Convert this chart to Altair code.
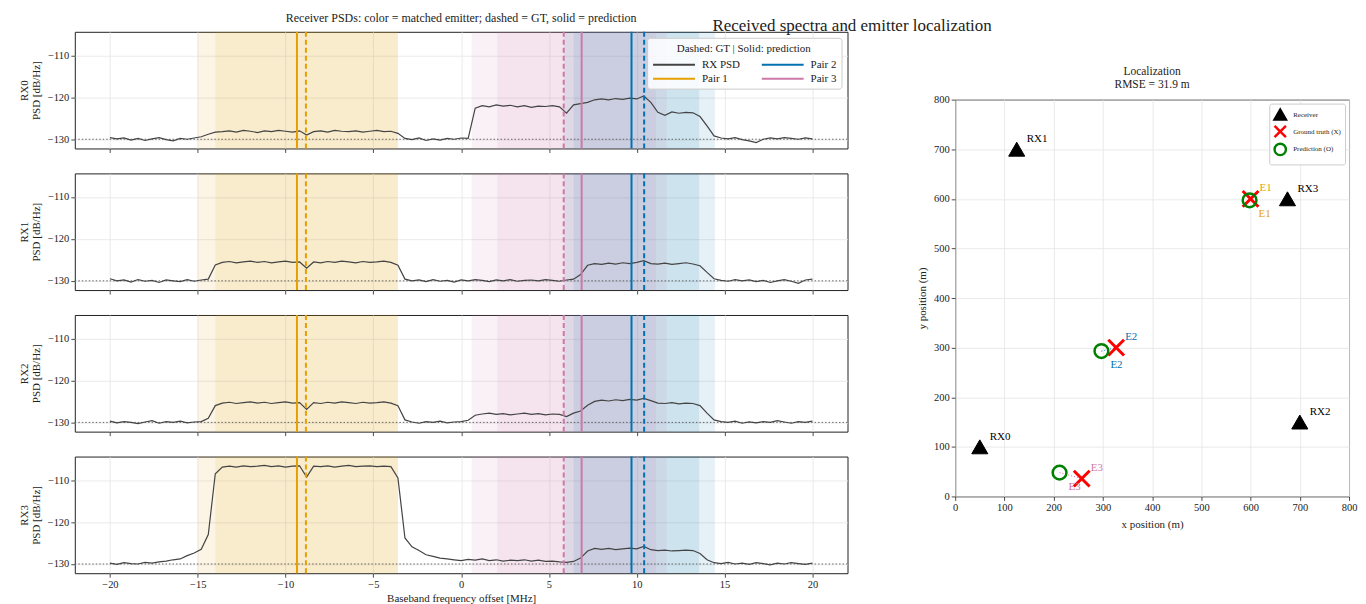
import altair as alt
import pandas as pd

FONT = "Liberation Serif"
INK = "#222222"

# ---------------- spectra data ----------------
freq_mhz = [
    -20.0, -19.6, -19.2, -18.8, -18.4, -18.0, -17.6, -17.2, -16.8, -16.4,
    -16.0, -15.6, -15.2, -14.8, -14.4, -14.0, -13.6, -13.2, -12.8, -12.4,
    -12.0, -11.6, -11.2, -10.8, -10.4, -10.0, -9.6, -9.2, -8.8, -8.4,
    -8.0, -7.6, -7.2, -6.8, -6.4, -6.0, -5.6, -5.2, -4.8, -4.4,
    -4.0, -3.6, -3.2, -2.8, -2.4, -2.0, -1.6, -1.2, -0.8, -0.4,
    0.0, 0.4, 0.8, 1.2, 1.6, 2.0, 2.4, 2.8, 3.2, 3.6,
    4.0, 4.4, 4.8, 5.2, 5.6, 6.0, 6.4, 6.8, 7.2, 7.6,
    8.0, 8.4, 8.8, 9.2, 9.6, 10.0, 10.4, 10.8, 11.2, 11.6,
    12.0, 12.4, 12.8, 13.2, 13.6, 14.0, 14.4, 14.8, 15.2, 15.6,
    16.0, 16.4, 16.8, 17.2, 17.6, 18.0, 18.4, 18.8, 19.2, 19.6,
    20.0,
]

psd_rx0 = [
    -129.6, -129.9, -129.7, -130.2, -129.8, -130.3, -129.9, -129.6, -130.1, -130.4,
    -129.8, -130.0, -129.7, -129.4, -128.8, -128.3, -128.2, -128.0, -128.3, -127.9,
    -128.1, -128.4, -128.0, -128.2, -127.9, -128.1, -128.3, -128.0, -129.0, -128.2,
    -128.0, -128.3, -127.9, -128.1, -128.2, -128.0, -128.3, -128.1, -127.9, -128.2,
    -128.1, -128.6, -129.8, -130.1, -129.7, -130.3, -129.9, -130.2, -129.8, -130.0,
    -129.7, -129.8, -122.6, -122.0, -122.3, -121.8, -122.1, -121.9, -122.3, -122.0,
    -122.4, -122.1, -122.2, -122.0, -122.3, -123.8, -121.8, -121.5, -121.2, -120.6,
    -120.4, -120.6, -120.3, -120.5, -120.2, -120.4, -119.7, -121.2, -123.6, -124.3,
    -123.5, -123.8, -123.6, -123.7, -124.6, -126.8, -129.2, -129.7, -129.9, -129.6,
    -130.1, -130.4, -130.8, -130.0, -129.7, -129.9, -129.6, -129.8, -130.0, -129.7,
    -129.9,
]
psd_rx1 = [
    -129.5, -130.0, -129.8, -130.3, -129.7, -130.1, -129.9, -130.4, -129.8, -130.0,
    -130.2, -129.7, -130.1, -129.8, -129.6, -126.2, -125.6, -125.4, -125.7, -125.5,
    -125.3, -125.6, -125.4, -125.7, -125.5, -125.3, -125.6, -125.5, -127.0, -125.5,
    -125.7, -125.4, -125.6, -125.3, -125.5, -125.7, -125.4, -125.6, -125.5, -125.3,
    -125.6, -126.3, -129.6, -130.0, -129.8, -130.2, -129.7, -130.1, -129.9, -130.3,
    -129.8, -130.0, -129.7, -129.9, -130.2, -129.8, -130.0, -129.7, -130.1, -129.9,
    -129.8, -130.0, -129.7, -129.9, -130.1, -129.8, -129.6, -128.5, -126.3, -125.9,
    -126.1, -125.8, -126.0, -125.7, -125.9, -125.6, -125.2, -125.9, -126.0, -125.8,
    -126.1, -125.9, -125.7, -126.0, -126.4, -128.0, -129.5, -129.9, -130.1, -129.7,
    -130.0, -129.8, -130.2, -129.9, -130.4, -130.0, -129.7, -130.1, -130.6, -129.8,
    -129.6,
]
psd_rx2 = [
    -129.7, -130.1, -129.8, -130.0, -130.3, -129.9, -129.6, -130.2, -129.8, -130.0,
    -129.7, -130.1, -129.9, -129.8, -129.0, -126.0, -125.4, -125.2, -125.5, -125.3,
    -125.1, -125.4, -125.2, -125.5, -125.3, -125.1, -125.4, -125.3, -126.9, -125.3,
    -125.5, -125.2, -125.4, -125.1, -125.3, -125.5, -125.2, -125.4, -125.3, -125.1,
    -125.4, -126.0, -129.4, -129.9, -130.2, -129.8, -130.0, -129.7, -130.1, -129.9,
    -129.8, -129.5, -128.3, -128.0, -127.8, -128.1, -127.9, -128.2, -128.0, -127.8,
    -128.1, -127.9, -128.2, -128.0, -128.1, -128.6, -127.8, -127.3, -125.9, -125.0,
    -124.7, -124.9, -124.6, -124.8, -124.5, -124.7, -124.3, -124.8, -125.4, -125.5,
    -125.3, -125.6, -125.4, -125.5, -126.0, -127.8, -129.4, -129.8, -130.0, -129.7,
    -130.2, -129.9, -130.1, -129.8, -130.0, -129.6, -129.9, -130.2, -129.8, -130.0,
    -129.7,
]
psd_rx3 = [
    -129.8, -130.1, -129.7, -129.9, -130.0, -129.6, -129.8, -129.5, -129.3, -129.0,
    -128.8, -128.0, -127.4, -126.5, -123.0, -108.5, -106.9, -106.7, -106.9, -106.6,
    -106.8, -106.7, -106.5, -106.8, -106.6, -106.9, -106.7, -106.6, -109.3, -106.7,
    -106.8, -106.6, -106.9, -106.7, -106.5, -106.8, -106.7, -106.6, -106.8, -106.7,
    -106.8, -109.5, -123.8, -125.9, -126.8, -127.8, -128.2, -128.6, -128.8, -129.0,
    -129.2, -128.9, -129.1, -128.8, -129.2, -129.0, -129.3, -129.1, -129.2, -129.0,
    -129.3, -129.1, -129.4, -129.3, -129.5, -129.6, -129.4, -128.6, -126.9, -126.3,
    -126.5, -126.3, -126.6, -126.4, -126.2, -126.4, -125.8, -126.6, -126.8, -126.7,
    -126.9, -126.8, -126.7, -126.8, -127.5, -129.0, -129.7, -129.9, -129.6, -130.0,
    -129.8, -130.1, -129.7, -129.9, -130.2, -129.8, -130.0, -129.7, -129.9, -130.1,
    -129.8,
]
rx_names = ["RX0", "RX1", "RX2", "RX3"]
noise_floor_db = [-130.0]

pair_names = ["Pair 1", "Pair 2", "Pair 3"]
pair_colors = ["#E69F00", "#0072B2", "#CC79A7"]
pair_gt_freq = [-8.84, 10.42, 5.84]
pair_pred_freq = [-9.35, 9.70, 6.86]
gt_band_lo = [-14.0, 6.40, 0.60]
gt_band_hi = [-3.6, 14.45, 11.10]
pred_band_lo = [-15.0, 5.85, 2.05]
pred_band_hi = [-3.6, 13.55, 11.70]

x_ticks = [-20, -15, -10, -5, 0, 5, 10, 15, 20]
y_ticks = [-130, -120, -110]
x_domain = [-22, 22]
y_domain = [-132.2, -104.4]

legend_order = ["RX PSD", "Pair 1", "Pair 2", "Pair 3"]
legend_colors = ["#444444", "#E69F00", "#0072B2", "#CC79A7"]

# ---------------- localization data ----------------
rx_x = [50, 125, 700, 675]
rx_y = [100, 700, 150, 600]
em_names = ["E1", "E2", "E3"]
gt_x = [600, 327, 257]
gt_y = [600, 300, 36]
pred_x = [598, 297, 212]
pred_y = [597, 293, 48]
loc_ticks = [0, 100, 200, 300, 400, 500, 600, 700, 800]
rmse_m = 31.9

for lst in (psd_rx0, psd_rx1, psd_rx2, psd_rx3):
    assert len(lst) == len(freq_mhz)

psd_lists = [psd_rx0, psd_rx1, psd_rx2, psd_rx3]

bands = pd.DataFrame({
    "pair": pair_names + pair_names,
    "lo": gt_band_lo + pred_band_lo,
    "hi": gt_band_hi + pred_band_hi,
})
markers = pd.DataFrame({
    "pair": pair_names + pair_names,
    "kind": ["GT"] * 3 + ["Prediction"] * 3,
    "freq": pair_gt_freq + pair_pred_freq,
})
floor_df = pd.DataFrame({"level": noise_floor_db})

x_scale = alt.Scale(domain=x_domain, nice=False, zero=False)
y_scale = alt.Scale(domain=y_domain, nice=False, zero=False)
color_scale = alt.Scale(domain=legend_order, range=legend_colors)
fill_scale_pairs = alt.Scale(domain=pair_names, range=pair_colors)
dash_scale = alt.Scale(domain=["GT", "Prediction"], range=[[5, 3], [1, 0]])

PANEL_H = 117
LEGEND_LINE = "M-1,0L5,0"


def psd_panel(i):
    is_top = i == 0
    is_bottom = i == 3
    if is_bottom:
        x_axis = alt.Axis(values=x_ticks, labels=True, title="Baseband frequency offset [MHz]",
                          titlePadding=3)
    else:
        x_axis = alt.Axis(values=x_ticks, labels=False, title=None)
    y_axis = alt.Axis(values=y_ticks, title=[rx_names[i], "PSD [dB/Hz]"])

    if is_top:
        legend = alt.Legend(
            orient="top-right", title="Dashed:  GT | Solid:  prediction",
            titleAnchor="middle", columns=2, symbolType=LEGEND_LINE,
            symbolSize=196, symbolStrokeWidth=2, labelFont=FONT,
            labelFontSize=11, titleFont=FONT, titleFontSize=11,
            titleFontWeight="normal", titleColor=INK, labelColor=INK,
            fillColor="rgba(255,255,255,0.85)", strokeColor="#cccccc",
            cornerRadius=3, padding=5, offset=6, columnPadding=17,
            rowPadding=1, labelOffset=34, titlePadding=3,
        )
    else:
        legend = None

    df = pd.DataFrame({"freq": freq_mhz, "psd": psd_lists[i], "series": "RX PSD"})

    span = alt.Chart(bands).mark_rect(opacity=0.10).encode(
        x=alt.X("lo:Q", scale=x_scale, axis=x_axis),
        x2="hi:Q",
        fill=alt.Fill("pair:N", scale=fill_scale_pairs, legend=None),
    )
    floor = alt.Chart(floor_df).mark_rule(
        color="#555555", strokeDash=[1.5, 2], strokeWidth=0.9
    ).encode(y=alt.Y("level:Q", scale=y_scale, axis=y_axis))
    line = alt.Chart(df).mark_line(strokeWidth=1.2).encode(
        x=alt.X("freq:Q", scale=x_scale, axis=x_axis),
        y=alt.Y("psd:Q", scale=y_scale, axis=y_axis),
        color=alt.Color("series:N", scale=color_scale, legend=legend),
    )
    rules = alt.Chart(markers).mark_rule(strokeWidth=2).encode(
        x=alt.X("freq:Q", scale=x_scale, axis=x_axis),
        color=alt.Color("pair:N", scale=color_scale, legend=legend),
        strokeDash=alt.StrokeDash("kind:N", scale=dash_scale, legend=None),
    )
    layered = alt.layer(span, floor, line, rules).properties(width=775, height=PANEL_H)
    if is_top:
        layered = layered.properties(title=alt.TitleParams(
            "Receiver PSDs:  color = matched emitter; dashed = GT, solid = prediction",
            fontSize=12, offset=6, font=FONT, fontWeight="normal", color=INK))
    return layered


panels = [psd_panel(i) for i in range(4)]
left = alt.vconcat(*panels, spacing=18).resolve_scale(
    color="independent", fill="independent", strokeDash="independent")

# ---------------- localization panel ----------------
X_PATH = "M-1,-1L1,1M-1,1L1,-1"
kind_domain = ["Receiver", "Ground truth (X)", "Prediction (O)"]
shape_scale = alt.Scale(domain=kind_domain, range=["triangle-up", X_PATH, "circle"])
fillk_scale = alt.Scale(domain=kind_domain, range=["#000000", "transparent", "transparent"])
strokek_scale = alt.Scale(domain=kind_domain, range=["#000000", "#ff0000", "#008000"])
em_scale = alt.Scale(domain=em_names, range=pair_colors)

loc_legend = alt.Legend(
    orient="top-right", title=None, labelFont=FONT, labelFontSize=7,
    labelColor=INK, symbolSize=130, symbolStrokeWidth=2.4,
    fillColor="white", strokeColor="#cccccc", padding=4, rowPadding=-15,
    cornerRadius=2, offset=4, labelOffset=6,
)

rx_df = pd.DataFrame({"x": rx_x, "y": rx_y, "name": rx_names, "kind": "Receiver"})
gt_df = pd.DataFrame({"x": gt_x, "y": gt_y, "name": em_names, "kind": "Ground truth (X)"})
pred_df = pd.DataFrame({"x": pred_x, "y": pred_y, "name": em_names, "kind": "Prediction (O)"})
link_df = pd.concat([gt_df, pred_df], ignore_index=True)

lx = alt.X("x:Q", scale=alt.Scale(domain=[0, 800], nice=False),
           axis=alt.Axis(values=loc_ticks, title="x position (m)"))
ly = alt.Y("y:Q", scale=alt.Scale(domain=[0, 800], nice=False),
           axis=alt.Axis(values=loc_ticks, title="y position (m)"))


def kind_enc():
    return dict(
        shape=alt.Shape("kind:N", scale=shape_scale, legend=loc_legend),
        fill=alt.Fill("kind:N", scale=fillk_scale, legend=loc_legend),
        stroke=alt.Stroke("kind:N", scale=strokek_scale, legend=loc_legend),
    )


links = alt.Chart(link_df).mark_line(strokeDash=[1, 2], strokeWidth=1).encode(
    x=lx, y=ly, detail="name:N",
    color=alt.Color("name:N", scale=em_scale, legend=None),
)
rx_pts = alt.Chart(rx_df).mark_point(size=260, strokeWidth=1, opacity=1).encode(
    x=lx, y=ly, **kind_enc())
gt_pts = alt.Chart(gt_df).mark_point(size=250, strokeWidth=3, opacity=1).encode(
    x=lx, y=ly, **kind_enc())
pred_pts = alt.Chart(pred_df).mark_point(size=190, strokeWidth=2.5, opacity=1).encode(
    x=lx, y=ly, **kind_enc())
rx_txt = alt.Chart(rx_df).mark_text(
    align="left", baseline="middle", dx=10, dy=-10, fontSize=11, font=FONT, color="black"
).encode(x=lx, y=ly, text="name:N")
gt_txt = alt.Chart(gt_df).mark_text(
    align="left", baseline="middle", dx=9, dy=-11, fontSize=11, font=FONT
).encode(x=lx, y=ly, text="name:N", color=alt.Color("name:N", scale=em_scale, legend=None))
pred_txt = alt.Chart(pred_df).mark_text(
    align="left", baseline="middle", dx=9, dy=14, fontSize=11, font=FONT
).encode(x=lx, y=ly, text="name:N", color=alt.Color("name:N", scale=em_scale, legend=None))

loc_chart = alt.layer(links, rx_pts, gt_pts, pred_pts, rx_txt, gt_txt, pred_txt).properties(
    width=395, height=398,
    title=alt.TitleParams(["Localization", f"RMSE = {rmse_m} m"], fontSize=11.5,
                          lineHeight=13, offset=4, font=FONT, fontWeight="normal", color=INK),
)

spacer = alt.Chart(pd.DataFrame({"v": [0]})).mark_point(opacity=0).encode(
    x=alt.X("v:Q", axis=None), y=alt.Y("v:Q", axis=None)
).properties(width=20, height=33, view=alt.ViewBackground(stroke="transparent"))

indep = dict(color="independent", fill="independent", stroke="independent",
             shape="independent", strokeDash="independent")

right_col = alt.vconcat(spacer, loc_chart, spacing=0).resolve_scale(**indep)

chart = alt.hconcat(left, right_col, spacing=67).resolve_scale(**indep).properties(
    title=alt.TitleParams("Received spectra and emitter localization", fontSize=17,
                          font=FONT, fontWeight="normal", color=INK,
                          anchor="middle", dx=165, offset=-24),
    padding={"left": 9, "top": 2, "right": 0, "bottom": 0},
).configure_view(
    stroke=INK, strokeWidth=1
).configure_axis(
    domain=False, tickColor=INK, tickSize=4, tickWidth=0.8, labelPadding=2,
    labelFont=FONT, labelFontSize=10.5, labelColor=INK, labelFlush=False,
    titleFont=FONT, titleFontSize=11, titleFontWeight="normal", titleColor=INK,
    titleLineHeight=12, titlePadding=6, gridColor="#e4e4e4", gridWidth=0.8,
)

chart.save("out.html", embed_options={"renderer": "svg", "actions": False})
